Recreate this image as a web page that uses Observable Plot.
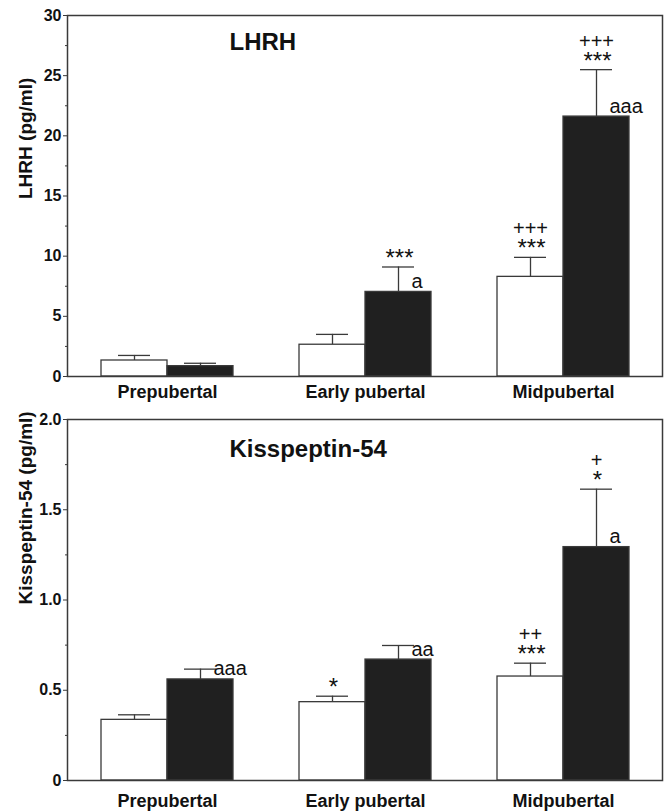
<!DOCTYPE html>
<html><head><meta charset="utf-8">
<script src="https://cdn.jsdelivr.net/npm/d3@7"></script>
<script src="https://cdn.jsdelivr.net/npm/@observablehq/plot@0.6"></script>
<style>
body{margin:0;background:#fff;}
#chart svg{display:block;}
g[aria-label="stars"] text{letter-spacing:2px;}
g[aria-label="y-axis tick label"]{font-weight:bold;font-size:16px;}
g[aria-label="x-axis tick label"]{font-weight:bold;font-size:18px;}
</style>
</head><body><div id="chart"></div>
<script>
// ---- data ----
const stages = ["Prepubertal", "Early pubertal", "Midpubertal"];

const lhrhTitle = "LHRH";
const lhrhYLabel = "LHRH (pg/ml)";
const lhrhOpenMean = [1.33, 2.64, 8.28];
const lhrhOpenSem = [0.42, 0.86, 1.62];
const lhrhFilledMean = [0.86, 7.03, 21.6];
const lhrhFilledSem = [0.24, 2.07, 3.9];
const lhrhOpenStars = ["", "", "***"];
const lhrhOpenPlus = ["", "", "+++"];
const lhrhFilledStars = ["", "***", "***"];
const lhrhFilledPlus = ["", "", "+++"];
const lhrhFilledLetters = ["", "a", "aaa"];
const lhrhTicks = [0, 5, 10, 15, 20, 25, 30];
const lhrhTickLabels = ["0", "5", "10", "15", "20", "25", "30"];
const lhrhMinorTicks = [2.5, 7.5, 12.5, 17.5, 22.5, 27.5];

const kissTitle = "Kisspeptin-54";
const kissYLabel = "Kisspeptin-54 (pg/ml)";
const kissOpenMean = [0.336, 0.434, 0.576];
const kissOpenSem = [0.028, 0.033, 0.074];
const kissFilledMean = [0.56, 0.67, 1.293];
const kissFilledSem = [0.057, 0.078, 0.321];
const kissOpenStars = ["", "*", "***"];
const kissOpenPlus = ["", "", "++"];
const kissFilledStars = ["", "", "*"];
const kissFilledPlus = ["", "", "+"];
const kissFilledLetters = ["aaa", "aa", "a"];
const kissTicks = [0, 0.5, 1, 1.5, 2];
const kissTickLabels = ["0", "0.5", "1.0", "1.5", "2.0"];
const kissMinorTicks = [0.25, 0.75, 1.25, 1.75];

// ---- drawing ----
const FONT = "'Liberation Sans', Arial, Helvetica, sans-serif";
const LINE = "#3a3a3a";

function rowsOf(mean, sem, stars, plus, letters) {
  return stages.map((s, i) => ({
    stage: s, mean: mean[i], top: mean[i] + sem[i],
    stars: stars[i], plus: plus[i], letter: letters ? letters[i] : ""
  }));
}

function groupMarks(rows, filled) {
  const o = filled ? 33 : -33;
  const barIns = filled ? {insetLeft: 99, insetRight: 33} : {insetLeft: 33, insetRight: 99};
  const capIns = filled ? {insetLeft: 116, insetRight: 50} : {insetLeft: 50, insetRight: 116};
  const marks = [
    Plot.ruleX(rows, {x: "stage", y1: "mean", y2: "top", dx: o, stroke: LINE, strokeWidth: 1.3}),
    Plot.tickY(rows, {x: "stage", y: "top", stroke: LINE, strokeWidth: 1.3, ...capIns}),
    Plot.barY(rows, {x: "stage", y: "mean", fill: filled ? "#202020" : "#ffffff",
      stroke: LINE, strokeWidth: 1.3, ...barIns}),
    Plot.text(rows, {x: "stage", y: "top", text: "stars", dx: o + 1, dy: -1,
      lineAnchor: "bottom", fontSize: 24, fill: "#111", ariaLabel: "stars"}),
    Plot.text(rows, {x: "stage", y: "top", text: "plus", dx: o, dy: -22,
      lineAnchor: "bottom", fontSize: 20, fill: "#111"})
  ];
  if (filled) {
    marks.push(Plot.text(rows, {x: "stage", y: "mean", text: "letter", dx: o + 13, dy: -4,
      textAnchor: "start", lineAnchor: "bottom", fontSize: 20, fill: "#111"}));
  }
  return marks;
}

function panel(cfg) {
  const open = rowsOf(cfg.openMean, cfg.openSem, cfg.openStars, cfg.openPlus, null);
  const filled = rowsOf(cfg.filledMean, cfg.filledSem, cfg.filledStars, cfg.filledPlus, cfg.letters);
  return Plot.plot({
    width: 668, height: cfg.height,
    marginLeft: 67, marginRight: 6, marginTop: cfg.mt, marginBottom: cfg.mb,
    style: {fontFamily: FONT, background: "#fff", color: "#000"},
    x: {domain: stages, padding: 0},
    y: {domain: cfg.domain, nice: false},
    marks: [
      ...groupMarks(open, false),
      ...groupMarks(filled, true),
      Plot.frame({stroke: LINE, strokeWidth: 1.5}),
      Plot.axisY({ticks: cfg.minor, tickSize: 2, tickFormat: () => "", stroke: LINE, label: null}),
      Plot.axisY({ticks: cfg.ticks, tickSize: 4, tickPadding: 2, stroke: LINE, fill: "#111",
        tickFormat: d => cfg.tickLabels[cfg.ticks.indexOf(d)],
        fontSize: 16, fontWeight: "bold", label: null}),
      Plot.axisX({tickSize: 0, tickPadding: cfg.xPad, fontSize: 18, fontWeight: "bold",
        fill: "#111", label: null}),
      Plot.text([cfg.title], {frameAnchor: "top-left", dx: 162, dy: cfg.titleDy,
        textAnchor: "start", lineAnchor: "middle", fontSize: 24, fontWeight: "bold", fill: "#111"}),
      Plot.text([cfg.yLabel], {frameAnchor: "left", rotate: -90, dx: -42, dy: cfg.yLabelDy,
        lineAnchor: "middle", fontSize: 19, fontWeight: "bold", fill: "#111"})
    ]
  });
}

const root = document.getElementById("chart");
root.append(panel({
  height: 412, mt: 15, mb: 36, domain: [0, 30],
  openMean: lhrhOpenMean, openSem: lhrhOpenSem, openStars: lhrhOpenStars, openPlus: lhrhOpenPlus,
  filledMean: lhrhFilledMean, filledSem: lhrhFilledSem, filledStars: lhrhFilledStars,
  filledPlus: lhrhFilledPlus, letters: lhrhFilledLetters,
  ticks: lhrhTicks, tickLabels: lhrhTickLabels, minor: lhrhMinorTicks,
  xPad: 9, title: lhrhTitle, titleDy: 26.5, yLabel: lhrhYLabel, yLabelDy: 3
}));
root.append(panel({
  height: 400, mt: 7, mb: 32, domain: [0, 2],
  openMean: kissOpenMean, openSem: kissOpenSem, openStars: kissOpenStars, openPlus: kissOpenPlus,
  filledMean: kissFilledMean, filledSem: kissFilledSem, filledStars: kissFilledStars,
  filledPlus: kissFilledPlus, letters: kissFilledLetters,
  ticks: kissTicks, tickLabels: kissTickLabels, minor: kissMinorTicks,
  xPad: 14, title: kissTitle, titleDy: 30, yLabel: kissYLabel, yLabelDy: 4.5
}));
</script>
</body></html>
